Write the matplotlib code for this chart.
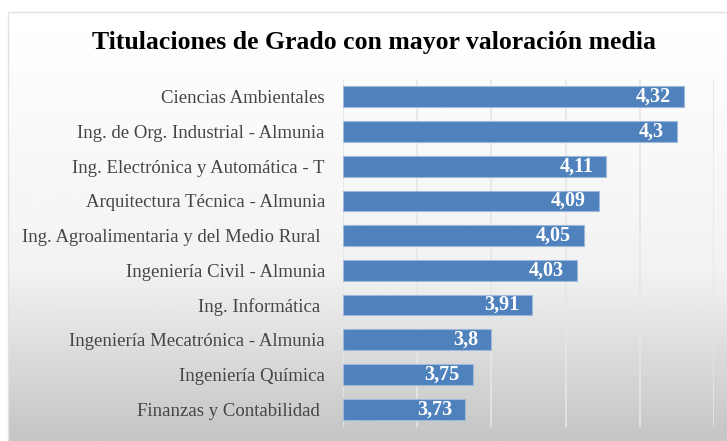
import numpy as np
from matplotlib import pyplot as plt
from matplotlib.patches import Rectangle

titulaciones = [
    'Ciencias Ambientales',
    'Ing. de Org. Industrial - Almunia',
    'Ing. Electrónica y Automática - T',
    'Arquitectura Técnica - Almunia',
    'Ing. Agroalimentaria y del Medio Rural ',
    'Ingeniería Civil - Almunia',
    'Ing. Informática ',
    'Ingeniería Mecatrónica - Almunia',
    'Ingeniería Química',
    'Finanzas y Contabilidad ',
]
valoracion = [4.32, 4.3, 4.11, 4.09, 4.05, 4.03, 3.91, 3.8, 3.75, 3.73]
etiquetas = ['4,32', '4,3', '4,11', '4,09', '4,05', '4,03', '3,91', '3,8', '3,75', '3,73']

W, H = 727, 441
fig = plt.figure(figsize=(W / 100, H / 100), dpi=100)
fig.patch.set_facecolor('white')

# fondo con degradado (blanco arriba, gris abajo)
bg = fig.add_axes([0, 0, 1, 1])
bg.set_xlim(0, W)
bg.set_ylim(H, 0)
bg.axis('off')
rows = np.linspace(0, 1, 200)
shade = np.where(rows < 0.6, 1.0 - 0.05 * rows / 0.6, 0.95 - 0.18 * (rows - 0.6) / 0.4)
grad = np.repeat(shade[:, None], 2, axis=1)
bg.imshow(grad, cmap='gray', vmin=0, vmax=1, extent=(8, W + 5, H, 12),
          aspect='auto', interpolation='bilinear')
bg.add_patch(Rectangle((8, 12), W, H, fill=False, edgecolor='#e2e2e2', lw=1))

fig.text(374 / W, 1 - 42 / H, 'Titulaciones de Grado con mayor valoración media',
         ha='center', va='center', fontsize=18.5, fontweight='bold',
         family='Liberation Serif', color='black')

ax = fig.add_axes([343 / W, 1 - 426.5 / H, (714 - 343) / W, (426.5 - 79.5) / H])
ax.patch.set_alpha(0)
y = np.arange(len(titulaciones))
ax.barh(y, np.array(valoracion) - 3.4, left=3.4, height=0.6,
        color='#4f81bd', edgecolor='#9fb9dc', linewidth=0.8, zorder=3)
for yi, v, lab in zip(y, valoracion, etiquetas):
    ax.text(v - 0.035, yi, lab, ha='right', va='center', color='white',
            fontsize=14.5, fontweight='bold', family='Liberation Serif', zorder=4)

ax.set_xlim(3.4, 4.4)
ax.set_ylim(len(titulaciones) - 0.5, -0.5)
ax.set_xticks(np.arange(3.4, 4.41, 0.2))
ax.set_xticklabels([])
ax.tick_params(axis='x', length=0)
ax.tick_params(axis='y', length=0, pad=13)
ax.set_yticks(y)
ax.set_yticklabels(titulaciones, fontsize=13.5, family='Liberation Serif', color='#454545')
ax.grid(axis='x', color='#e6e6e6', lw=1.2, zorder=0)
for s in ax.spines.values():
    s.set_visible(False)

plt.savefig('out.png', dpi=100)
